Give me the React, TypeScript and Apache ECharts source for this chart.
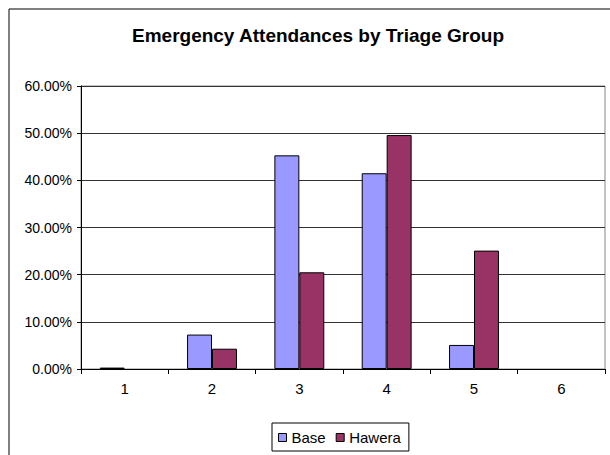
import React, { useEffect, useRef } from "react";
import * as echarts from "echarts";

const categories = ["1", "2", "3", "4", "5", "6"];
const baseValues = [0.003, 0.073, 0.453, 0.415, 0.051, 0];
const haweraValues = [0, 0.043, 0.205, 0.496, 0.251, 0];

const FONT = "Liberation Sans, Arial, sans-serif";

const toData = (vals: number[]) =>
  vals.map((v) => (v === 0 ? { value: v, itemStyle: { borderWidth: 0 } } : v));

export default function App() {
  const ref = useRef<HTMLDivElement>(null);
  useEffect(() => {
    if (!ref.current) return;
    const chart = echarts.init(ref.current, undefined, { renderer: "svg" });
    chart.setOption({
      animation: false,
      backgroundColor: "#fff",
      textStyle: { fontFamily: FONT },
      title: {
        text: "Emergency Attendances by Triage Group",
        left: 313,
        textAlign: "center",
        top: 21,
        textStyle: { fontFamily: FONT, fontSize: 19, fontWeight: "bold", color: "#000" },
      },
      graphic: [
        {
          type: "rect",
          shape: { x: 9, y: 9, width: 700, height: 500 },
          style: { fill: "none", stroke: "#000", lineWidth: 1 },
          silent: true,
          z: -1,
        },
      ],
      legend: {
        left: 272,
        top: 423,
        orient: "horizontal",
        borderColor: "#000",
        borderWidth: 1,
        padding: [7, 8, 6, 6],
        itemGap: 10,
        itemWidth: 8,
        itemHeight: 8,
        icon: "rect",
        itemStyle: { borderColor: "#000", borderWidth: 1 },
        textStyle: { fontFamily: FONT, fontSize: 15, color: "#000" },
        data: ["Base", "Hawera"],
      },
      grid: {
        left: 81,
        right: 5,
        top: 86,
        bottom: 86,
        show: true,
        borderColor: "#888",
        borderWidth: 1,
      },
      xAxis: {
        type: "category",
        data: categories,
        axisLine: { lineStyle: { color: "#000", width: 1 } },
        axisTick: { show: true, length: 5, inside: false, lineStyle: { color: "#000" } },
        axisLabel: { fontFamily: FONT, fontSize: 15, color: "#000", margin: 12 },
      },
      yAxis: {
        type: "value",
        min: 0,
        max: 0.6,
        interval: 0.1,
        axisLine: { show: true, lineStyle: { color: "#000", width: 1 } },
        axisTick: { show: true, length: 4, lineStyle: { color: "#000" } },
        splitLine: { show: true, lineStyle: { color: "#333", width: 1 } },
        axisLabel: {
          fontFamily: FONT,
          fontSize: 14,
          color: "#000",
          margin: 9,
          formatter: (v: number) => (v * 100).toFixed(2) + "%",
        },
      },
      series: [
        {
          name: "Base",
          type: "bar",
          data: toData(baseValues),
          barGap: "0%",
          barCategoryGap: "42.86%",
          itemStyle: { color: "#9999FF", borderColor: "#000", borderWidth: 1 },
        },
        {
          name: "Hawera",
          type: "bar",
          data: toData(haweraValues),
          barGap: "0%",
          barCategoryGap: "42.86%",
          itemStyle: { color: "#993366", borderColor: "#000", borderWidth: 1 },
        },
      ],
    });
    return () => chart.dispose();
  }, []);
  return (
    <div
      ref={ref}
      style={{ position: "absolute", left: 0, top: 0, width: 610, height: 455 }}
    />
  );
}
